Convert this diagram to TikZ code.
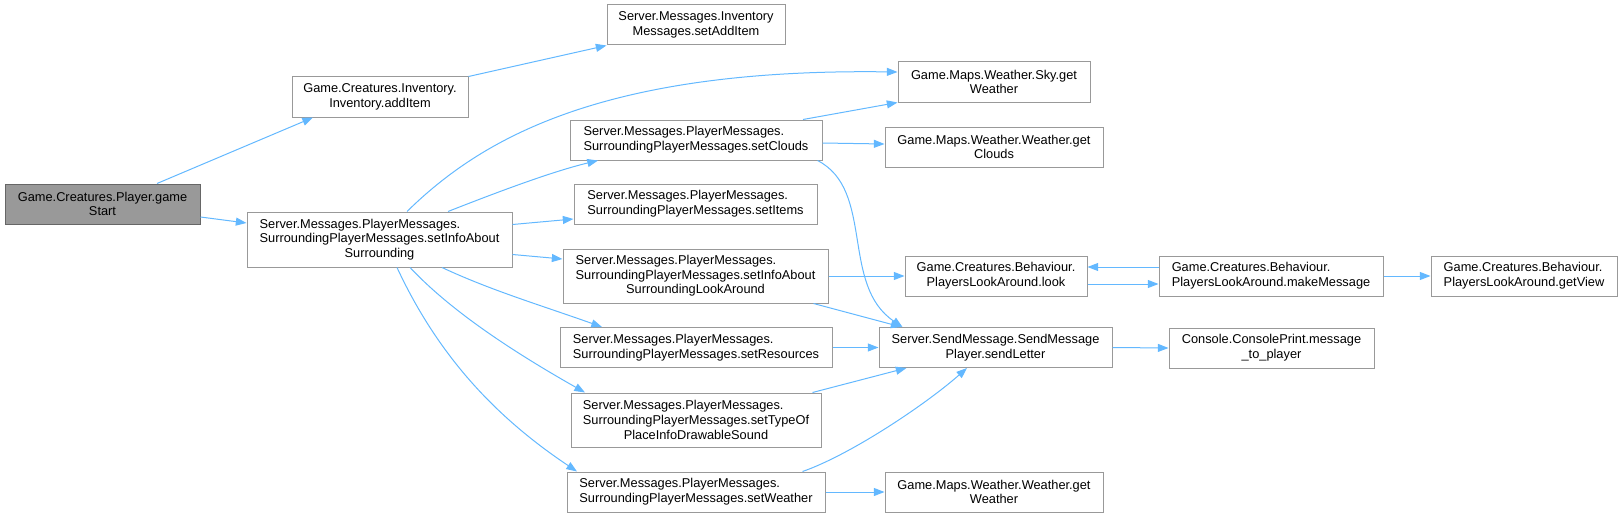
\documentclass[tikz,border=0pt]{standalone}
\usepackage{fontspec}
\setmainfont{Liberation Sans}
\usetikzlibrary{arrows.meta,calc}
\definecolor{dxedge}{HTML}{63B8FF}
\definecolor{dxline}{HTML}{999999}
\definecolor{dxroot}{HTML}{999999}
\definecolor{dxrootline}{HTML}{666666}
\newcommand{\midline}[1]{\hspace*{\fill}#1\hspace*{\fill}}

\begin{document}
\begin{tikzpicture}[x=0.75pt,y=-0.75pt, every node/.style={font=\fontsize{9.6}{11}\selectfont,align=left}]
\tikzset{fn/.style={draw=dxline,line width=0.75pt,fill=white,inner sep=0pt},
  root/.style={fn,draw=dxrootline,fill=dxroot},
  sz/.style 2 args={minimum width=#1*0.75pt,minimum height=#2*0.75pt},
  call/.style={draw=dxedge,line width=0.75pt,-{Triangle[length=8pt,width=6pt]}}}
\useasboundingbox (0,0) rectangle (1623,517);
% functions
\node[root,sz={195}{40}] (gs) at (102.5,204) {Game.Creatures.Player.game\\\midline{Start}};
\node[fn,sz={176}{40}] (additem) at (380,97) {Game.Creatures.Inventory.\\\midline{Inventory.addItem}};
\node[fn,sz={265}{55}] (setinfo) at (379.5,239.5) {Server.Messages.PlayerMessages.\\SurroundingPlayerMessages.setInfoAbout\\\midline{Surrounding}};
\node[fn,sz={178}{40}] (setadd) at (696,25) {Server.Messages.Inventory\\\midline{Messages.setAddItem}};
\node[fn,sz={192}{40}] (sky) at (994,82) {Game.Maps.Weather.Sky.get\\\midline{Weather}};
\node[fn,sz={252}{40}] (clouds) at (696,140) {Server.Messages.PlayerMessages.\\SurroundingPlayerMessages.setClouds};
\node[fn,sz={218}{40}] (getclouds) at (994,147) {Game.Maps.Weather.Weather.get\\\midline{Clouds}};
\node[fn,sz={243}{40}] (items) at (695.5,204) {Server.Messages.PlayerMessages.\\SurroundingPlayerMessages.setItems};
\node[fn,sz={265}{54}] (lookaround) at (695.5,276) {Server.Messages.PlayerMessages.\\SurroundingPlayerMessages.setInfoAbout\\\midline{SurroundingLookAround}};
\node[fn,sz={182}{40}] (look) at (996,276) {Game.Creatures.Behaviour.\\\midline{PlayersLookAround.look}};
\node[fn,sz={272}{40}] (resources) at (696,347.5) {Server.Messages.PlayerMessages.\\SurroundingPlayerMessages.setResources};
\node[fn,sz={233}{40}] (sendletter) at (995.5,347.5) {Server.SendMessage.SendMessage\\\midline{Player.sendLetter}};
\node[fn,sz={250}{54}] (typeof) at (696,420) {Server.Messages.PlayerMessages.\\SurroundingPlayerMessages.setTypeOf\\\midline{PlaceInfoDrawableSound}};
\node[fn,sz={258}{40}] (setweather) at (696,492) {Server.Messages.PlayerMessages.\\SurroundingPlayerMessages.setWeather};
\node[fn,sz={218}{40}] (getweather) at (994,492) {Game.Maps.Weather.Weather.get\\\midline{Weather}};
\node[fn,sz={224}{40}] (makemsg) at (1271,276) {Game.Creatures.Behaviour.\\PlayersLookAround.makeMessage};
\node[fn,sz={186}{40}] (getview) at (1524,276) {Game.Creatures.Behaviour.\\PlayersLookAround.getView};
\node[fn,sz={205}{40}] (msgplayer) at (1271.5,348) {Console.ConsolePrint.message\\\midline{\_to\_player}};
% calls
\draw[call] ($(gs.north)+(54.5,0)$) -- ($(additem.south)+(-67,0)$);
\draw[call] ($(gs.east)+(0,13)$) -- ($(setinfo.west)+(0,-16.5)$);
\draw[call] (additem.north east) -- (setadd.south west);
\draw[call] ($(setinfo.north)+(27.5,0)$) .. controls (480,140) and (600,68) .. ($(sky.west)+(0,-10)$);
\draw[call] ($(setinfo.north)+(68.5,0)$) .. controls (490,195) and (550,172) .. ($(clouds.south)+(-98,0)$);
\draw[call] ($(setinfo.east)+(0,-15)$) -- ($(items.west)+(0,15)$);
\draw[call] ($(setinfo.east)+(0,15)$) -- ($(lookaround.west)+(0,-17)$);
\draw[call] ($(setinfo.south)+(62.5,0)$) .. controls (490,290) and (540,305) .. ($(resources.north)+(-94,0)$);
\draw[call] ($(setinfo.south)+(30.5,0)$) .. controls (450,310) and (510,350) .. ($(typeof.north)+(-111,0)$);
\draw[call] ($(setinfo.south)+(17.5,0)$) .. controls (440,360) and (500,420) .. ($(setweather.north)+(-119,0)$);
\draw[call] ($(clouds.north)+(107,0)$) -- (sky.south west);
\draw[call] ($(clouds.east)+(0,3)$) -- ($(getclouds.west)+(0,-3)$);
\draw[call] ($(clouds.south east)+(-5,0)$) .. controls (875,190) and (840,285) .. ($(sendletter.north west)+(24,0)$);
\draw[call] (lookaround.east) -- (look.west);
\draw[call] ($(lookaround.south east)+(-15,0)$) -- ($(sendletter.north west)+(23,0)$);
\draw[call] (resources.east) -- (sendletter.west);
\draw[call] ($(typeof.north east)+(-9,0)$) -- ($(sendletter.south west)+(28,0)$);
\draw[call] ($(setweather.north east)+(-23,0)$) .. controls (850,455) and (925,405) .. ($(sendletter.south)+(-28.5,0)$);
\draw[call] (setweather.east) -- (getweather.west);
\draw[call] ($(look.east)+(0,8)$) -- ($(makemsg.west)+(0,8)$);
\draw[call] ($(makemsg.west)+(0,-9)$) -- ($(look.east)+(0,-9)$);
\draw[call] (makemsg.east) -- (getview.west);
\draw[call] (sendletter.east) -- (msgplayer.west);
\end{tikzpicture}
\end{document}
